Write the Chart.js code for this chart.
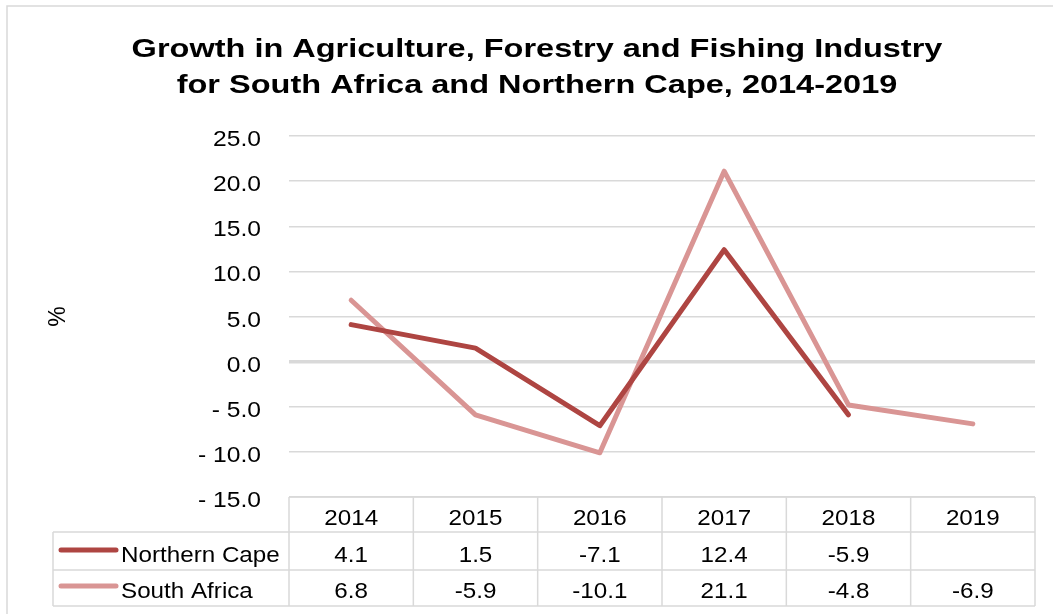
<!DOCTYPE html>
<html>
<head>
<meta charset="utf-8">
<title>Growth in Agriculture, Forestry and Fishing Industry</title>
<script src="https://cdn.jsdelivr.net/npm/chart.js@4/dist/chart.umd.min.js"></script>
<style>
  html, body { margin: 0; padding: 0; background: #ffffff; }
  #wrap { width: 1053px; height: 614px; }
</style>
</head>
<body>
<div id="wrap"><canvas id="chart" width="1053" height="614"></canvas></div>
<script>
// Annual growth (%) by year
const years = ['2014', '2015', '2016', '2017', '2018', '2019'];
const northernCape = [4.1, 1.5, -7.1, 12.4, -5.9, null];
const southAfrica = [6.8, -5.9, -10.1, 21.1, -4.8, -6.9];
const yTicks = [-15, -10, -5, 0, 5, 10, 15, 20, 25];
const titleLines = ['Growth in Agriculture, Forestry and Fishing Industry',
                    'for South Africa and Northern Cape, 2014-2019'];

const FONT = '"Liberation Sans", Arial, sans-serif';
const GRID = '#d9d9d9';
const seriesList = [
  { label: 'Northern Cape', data: northernCape, color: '#ae4542' },
  { label: 'South Africa', data: southAfrica, color: '#d99594' }
];

// Excel-style number format: "- 5.0" for negatives
function fmtAxis(v) {
  return v < 0 ? '- ' + Math.abs(v).toFixed(1) : v.toFixed(1);
}

// Text with a slightly widened face (horizontal scale sx)
function wideText(ctx, txt, x, y, sx, align) {
  ctx.save();
  ctx.translate(x, y);
  ctx.scale(sx, 1);
  ctx.textAlign = align;
  ctx.textBaseline = 'alphabetic';
  ctx.fillText(txt, 0, 0);
  ctx.restore();
}

// Frame, title, axis labels and the data table under the plot
const dataTablePlugin = {
  id: 'dataTable',
  beforeDraw(chart) {
    const ctx = chart.ctx;
    ctx.save();
    ctx.strokeStyle = GRID;
    ctx.lineWidth = 1.5;
    ctx.beginPath();
    ctx.moveTo(7, chart.height + 2);
    ctx.lineTo(7, 6);
    ctx.lineTo(chart.width + 2, 6);
    ctx.stroke();

    ctx.fillStyle = '#000000';
    ctx.font = 'bold 25px ' + FONT;
    wideText(ctx, titleLines[0], 537, 57, 1.3, 'center');
    wideText(ctx, titleLines[1], 537, 93, 1.3, 'center');
    ctx.restore();
  },
  afterDraw(chart) {
    const ctx = chart.ctx;
    const area = chart.chartArea;
    const n = years.length;
    const colW = (area.right - area.left) / n;
    const rowTop = area.bottom;
    const rows = [rowTop, rowTop + 35, rowTop + 73, rowTop + 109];
    const baselines = [rowTop + 28, rowTop + 65, rowTop + 101];
    const legendLeft = 53;
    const sx = 1.1;

    ctx.save();
    // y tick labels
    const yScale = chart.scales.y;
    ctx.fillStyle = '#000000';
    ctx.font = '22px ' + FONT;
    yTicks.forEach(v => {
      wideText(ctx, fmtAxis(v), 261, yScale.getPixelForValue(v) + 10, 1.12, 'right');
    });

    // table grid
    ctx.strokeStyle = GRID;
    ctx.lineWidth = 1.5;
    ctx.beginPath();
    ctx.moveTo(area.left, rows[0]); ctx.lineTo(area.right, rows[0]);
    for (let r = 1; r < rows.length; r++) {
      ctx.moveTo(legendLeft, rows[r]); ctx.lineTo(area.right, rows[r]);
    }
    ctx.moveTo(legendLeft, rows[1]); ctx.lineTo(legendLeft, rows[3]);
    for (let i = 0; i <= n; i++) {
      const x = area.left + i * colW;
      ctx.moveTo(x, rows[0]); ctx.lineTo(x, rows[3]);
    }
    ctx.stroke();

    const xScale = chart.scales.x;
    years.forEach((y, i) => {
      wideText(ctx, y, xScale.getPixelForValue(i), baselines[0], sx, 'center');
    });
    seriesList.forEach((s, r) => {
      const by = baselines[r + 1];
      s.data.forEach((v, i) => {
        if (v === null) return;
        wideText(ctx, v.toFixed(1), xScale.getPixelForValue(i), by, sx, 'center');
      });
      // legend key
      ctx.strokeStyle = s.color;
      ctx.lineWidth = 5;
      ctx.lineCap = 'round';
      ctx.beginPath();
      ctx.moveTo(61, by - 12);
      ctx.lineTo(116, by - 12);
      ctx.stroke();
      wideText(ctx, s.label, 121, by, sx, 'left');
    });
    ctx.restore();
  }
};

new Chart(document.getElementById('chart'), {
  type: 'line',
  data: {
    labels: years,
    datasets: seriesList.map(s => ({
      label: s.label,
      data: s.data,
      borderColor: s.color,
      backgroundColor: s.color,
      borderWidth: 5,
      borderCapStyle: 'round',
      borderJoinStyle: 'round',
      pointRadius: 0,
      pointHoverRadius: 0,
      tension: 0,
      fill: false
    }))
  },
  options: {
    responsive: false,
    animation: false,
    events: [],
    layout: { padding: { top: 136, bottom: 117, left: 7, right: 18 } },
    plugins: {
      legend: { display: false },
      tooltip: { enabled: false },
      title: { display: false }
    },
    scales: {
      x: {
        type: 'category',
        display: false,
        offset: true
      },
      y: {
        min: -15,
        max: 25,
        afterFit(scale) { scale.width = 282; },
        afterBuildTicks(scale) { scale.ticks = yTicks.map(v => ({ value: v })); },
        border: { display: false },
        grid: {
          color: GRID,
          drawTicks: false,
          lineWidth: ctx => (ctx.tick && ctx.tick.value === 0 ? 3.5 : 1.5)
        },
        ticks: { display: false },
        title: {
          display: true,
          text: '%',
          color: '#000000',
          font: { family: FONT, size: 23 },
          padding: { top: 38, bottom: 0 }
        }
      }
    }
  },
  plugins: [dataTablePlugin]
});
</script>
</body>
</html>
